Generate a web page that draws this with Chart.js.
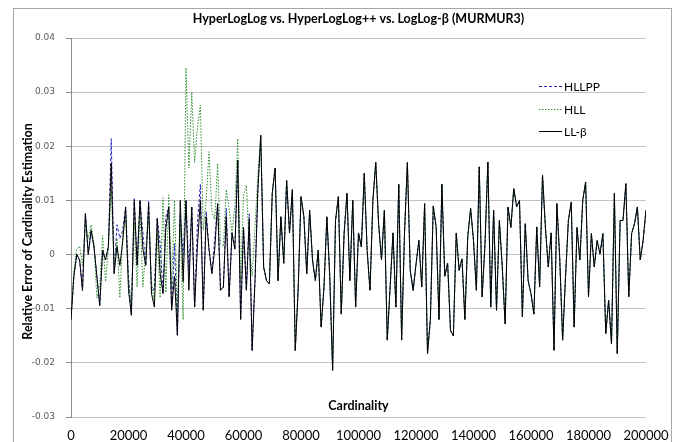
<!DOCTYPE html>
<html><head><meta charset="utf-8">
<script src="https://cdn.jsdelivr.net/npm/chart.js@4.4.1/dist/chart.umd.min.js"></script>
<style>html,body{margin:0;padding:0;background:#fff}#wrap{width:684px;height:442px}</style>
</head><body><div id="wrap"><canvas id="c"></canvas></div>
<script>
// HLL vs HLL++ vs LogLog-beta relative error (MURMUR3)

// cardinality sampled every 1000 (0..200000)
const cardinality=Array.from({length:201},(_,i)=>i*1000);

// 0..65000 the three estimators differ
const llHead=[-0.012,-0.004,0.000,-0.001,-0.0066,0.0076,0.000,0.0045,0.0014,-0.004,
-0.0094,0.0008,-0.001,0.0015,0.0168,-0.0035,0.0015,-0.002,0.0025,0.0088,
-0.0066,-0.0112,0.010,-0.002,0.010,0.001,-0.002,0.0094,-0.0072,-0.0097,
0.0067,-0.0035,-0.0072,0.005,0.0088,-0.0103,-0.004,-0.0149,0.010,-0.005,
0.010,-0.0066,0.0088,-0.0097,0.002,0.010,-0.0103,0.007,0.001,-0.0035,
0.001,0.0094,-0.0066,-0.006,0.007,-0.0078,0.004,0.001,0.0174,-0.012,
0.005,-0.0066,0.0065,-0.0177,-0.0048,0.012];
const hllHead=[-0.0115,-0.003,0.001,0.0015,-0.002,0.006,0.003,0.0055,0.002,-0.008,
-0.006,0.0035,-0.005,0.001,0.012,-0.002,0.003,-0.008,0.004,0.007,
-0.005,-0.009,0.006,-0.006,0.008,-0.006,0.001,0.007,-0.005,-0.009,
0.004,-0.008,0.0105,-0.007,0.011,-0.006,0.010,-0.011,0.006,-0.012,
0.0345,0.016,0.030,0.017,0.0236,0.0276,0.0045,0.010,0.019,0.008,
0.0065,0.0168,0.002,0.0015,0.012,0.0085,0.004,0.009,0.0214,-0.005,
0.011,0.0128,0.0015,-0.004,0.005,0.0147];
const hllppHead=[-0.012,-0.004,0.000,-0.001,-0.0066,0.0076,0.000,0.0045,0.0014,-0.004,
-0.0094,0.0008,-0.001,0.0015,0.0214,-0.0035,0.0055,0.003,0.0045,0.0088,
-0.004,-0.0112,0.0103,-0.002,0.010,0.004,-0.002,0.010,-0.0072,-0.006,
0.0067,0.002,-0.0072,0.007,0.0088,-0.0103,0.002,-0.0149,0.0072,0.000,
0.010,-0.003,0.0088,-0.0097,0.006,0.013,-0.0103,0.008,0.001,-0.0035,
0.003,0.0094,-0.0066,-0.006,0.0085,-0.0078,0.004,0.001,0.0176,-0.012,
0.005,-0.0066,0.0075,-0.0177,-0.0048,0.012];
// 66000..200000 the curves lie on top of each other
const sharedTail=[0.022,-0.0023,-0.0048,-0.0054,0.0113,0.016,-0.0048,0.007,-0.0016,0.0137,
0.004,0.012,-0.0177,-0.0066,0.0107,0.007,-0.0035,0.0082,-0.001,-0.0048,
0.0008,-0.0134,-0.006,0.007,-0.004,-0.0214,0.0063,0.0107,-0.011,0.004,
0.0113,-0.0048,0.010,-0.0097,0.004,0.0014,0.015,0.0008,-0.0066,0.010,
0.017,0.0056,-0.001,0.0082,-0.0158,-0.006,0.004,-0.0097,0.013,-0.0158,
0.0039,0.017,-0.0029,-0.0066,-0.0018,0.0026,-0.006,0.0094,-0.0183,-0.012,
0.009,0.0051,-0.012,0.013,-0.004,-0.0016,-0.014,-0.015,0.004,-0.0029,
-0.0008,-0.012,0.0033,0.0085,0.0026,-0.0066,0.0162,-0.0078,0.002,0.0171,
-0.0097,0.0082,-0.0103,0.0063,-0.0023,-0.0128,0.0088,0.005,0.0122,0.0088,
0.010,-0.0115,0.0057,-0.0048,-0.0072,-0.011,0.0051,-0.006,0.0147,0.0051,
-0.0023,0.004,-0.0177,0.0094,-0.0008,-0.0158,-0.0042,0.0063,0.0097,-0.0134,
0.005,-0.001,0.010,0.0134,-0.0078,0.0039,-0.0023,0.0026,0.0001,0.0039,
-0.0146,-0.0084,-0.0165,0.0113,-0.0183,0.0063,0.0063,0.0131,-0.0078,0.0039,
0.0057,0.0088,-0.001,0.0026,0.0082];

const hllpp=hllppHead.concat(sharedTail);
const hll=hllHead.concat(sharedTail);
const llBeta=llHead.concat(sharedTail);

const xTicks=[0,20000,40000,60000,80000,100000,120000,140000,160000,180000,200000];
const xTickLabels=["0","20000","40000","60000","80000","100000","120000","140000","160000","180000","200000"];
const yTicks=[-0.03,-0.02,-0.01,0,0.01,0.02,0.03,0.04];
const yTickLabels=["-0.03","-0.02","-0.01","0","0.01","0.02","0.03","0.04"];

const SER=[
  {name:"HLLPP",vals:hllpp,clr:"#2424b8",dash:[3,2],order:3},
  {name:"HLL",vals:hll,clr:"#2f8f2f",dash:[1.5,1.5],order:2},
  {name:"LL-β",vals:llBeta,clr:"#000000",dash:[],order:1}
];

const FNT="Lato, 'Open Sans', sans-serif";

const decor={id:"decor",
  beforeDraw(c){const x=c.ctx;x.save();x.fillStyle="#fff";x.fillRect(0,0,c.width,c.height);
    x.strokeStyle="#a6a6a6";x.lineWidth=1;x.strokeRect(13.5,8.5,658,440);x.restore()},
  afterDraw(c){const x=c.ctx,a=c.chartArea,cx=(a.left+a.right)/2;x.save();
    x.fillStyle="#000";x.textAlign="center";x.textBaseline="middle";
    x.font="bold 12.5px "+FNT;
    x.fillText("HyperLogLog vs. HyperLogLog++ vs. LogLog-β (MURMUR3)",cx,19);
    x.fillText("Cardinality",cx,406);
    x.save();x.translate(28,(a.top+a.bottom)/2+4);x.rotate(-Math.PI/2);
    x.fillText("Relative Error of Cardinality Estimation",0,0);x.restore();
    // legend
    x.font="12px "+FNT;x.textAlign="left";
    [86,109,131].forEach((y,i)=>{const s=SER[i];x.strokeStyle=s.clr;x.lineWidth=1;x.setLineDash(s.dash);
      x.beginPath();x.moveTo(539,y+0.5);x.lineTo(562,y+0.5);x.stroke();x.setLineDash([]);
      x.fillText(s.name,564,y+1)});
    x.restore()}
};

new Chart(document.getElementById("c"),{type:"line",
  data:{datasets:SER.map(s=>({label:s.name,data:cardinality.map((k,i)=>({x:k,y:s.vals[i]})),
    borderColor:s.clr,borderWidth:1,borderDash:s.dash,pointRadius:0,tension:0,fill:false,order:s.order}))},
  options:{responsive:true,maintainAspectRatio:false,animation:false,devicePixelRatio:1,
    layout:{padding:{left:0,right:38,top:38,bottom:0}},
    plugins:{legend:{display:false},title:{display:false},tooltip:{enabled:false}},
    scales:{
      x:{type:"linear",min:0,max:200000,
        afterBuildTicks:s=>{s.ticks=xTicks.map(v=>({value:v}))},
        afterFit:s=>{s.height=25},
        ticks:{callback:(v,i)=>xTickLabels[i],color:"#000",font:{family:FNT,size:13},padding:11,maxRotation:0,autoSkip:false},
        grid:{display:false,drawTicks:false},border:{display:false}},
      y:{min:-0.03,max:0.04,
        afterBuildTicks:s=>{s.ticks=yTicks.map(v=>({value:v}))},
        afterFit:s=>{s.width=71},
        ticks:{callback:(v,i)=>yTickLabels[i],color:"#595959",font:{family:"'DejaVu Sans'",size:9},padding:11},
        grid:{color:"#c4c4c4",tickColor:"#8c8c8c",tickLength:5},
        border:{display:true,color:"#8c8c8c"}}
    }},
  plugins:[decor]});
</script></body></html>
